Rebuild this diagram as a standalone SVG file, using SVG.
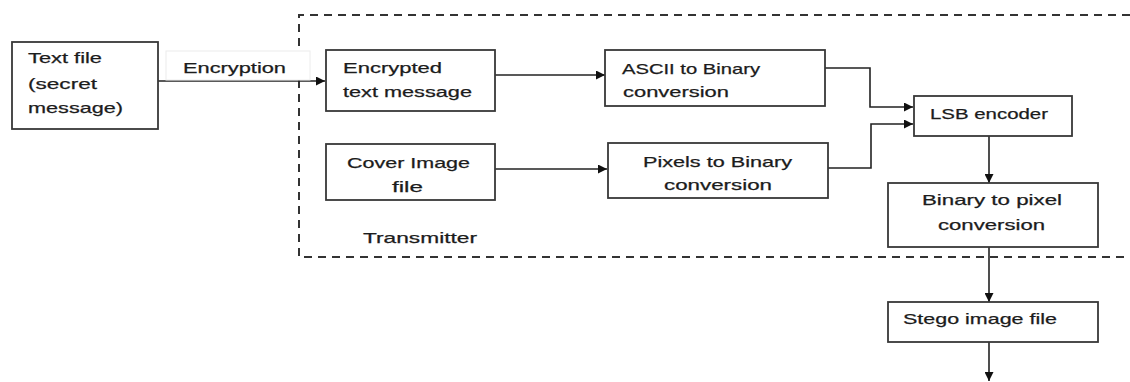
<svg xmlns="http://www.w3.org/2000/svg" width="1130" height="382" viewBox="0 0 1130 382">
  <style>
    .box { fill: #ffffff; stroke: #383838; stroke-width: 1.8; }
    .lbl { font-family: "Liberation Sans", Arial, sans-serif; font-size: 15px; fill: #1c1c1c; stroke: #1c1c1c; stroke-width: 0.25; }
    .wire { fill: none; stroke: #222222; stroke-width: 1.6; }
    .frame { fill: none; stroke: #333333; stroke-width: 2; stroke-dasharray: 8 6; }
  </style>
  <defs>
    <marker id="arrow" viewBox="0 0 10 10" refX="10" refY="5" markerWidth="10" markerHeight="9" markerUnits="userSpaceOnUse" orient="auto">
      <path d="M0,0 L10,5 L0,10 Z" fill="#111111"/>
    </marker>
  </defs>

  <rect width="1130" height="382" fill="#ffffff"/>

  <!-- transmitter boundary (open to the right) -->
  <g id="transmitter">
    <path class="frame" d="M1130,15 H299 V257 H1130"/>
    <text class="lbl" x="363" y="243" textLength="114" lengthAdjust="spacingAndGlyphs">Transmitter</text>
  </g>

  <!-- connectors -->
  <g id="connectors">
    <line class="wire" x1="158" y1="81" x2="325" y2="81" marker-end="url(#arrow)"/>
    <line class="wire" x1="495" y1="75" x2="605" y2="75" marker-end="url(#arrow)"/>
    <line class="wire" x1="495" y1="169" x2="607" y2="169" marker-end="url(#arrow)"/>
    <polyline class="wire" points="825,68 870,68 870,107 913,107" marker-end="url(#arrow)"/>
    <polyline class="wire" points="828,168 871,168 871,124 913,124" marker-end="url(#arrow)"/>
    <line class="wire" x1="989" y1="136" x2="989" y2="183" marker-end="url(#arrow)"/>
    <line class="wire" x1="989" y1="247" x2="989" y2="302" marker-end="url(#arrow)"/>
    <line class="wire" x1="989" y1="342" x2="989" y2="381" marker-end="url(#arrow)"/>
  </g>

  <!-- edge label -->
  <g id="encryption-label">
    <rect x="166" y="51" width="144" height="29" fill="#ffffff" stroke="#ececec" stroke-width="1"/>
    <text class="lbl" x="183" y="73" textLength="103" lengthAdjust="spacingAndGlyphs">Encryption</text>
  </g>

  <g id="text-file">
    <rect class="box" x="12" y="42" width="146" height="87"/>
    <text class="lbl" x="28" y="63" textLength="74" lengthAdjust="spacingAndGlyphs">Text file</text>
    <text class="lbl" x="28" y="89" textLength="69" lengthAdjust="spacingAndGlyphs">(secret</text>
    <text class="lbl" x="28" y="113" textLength="95" lengthAdjust="spacingAndGlyphs">message)</text>
  </g>

  <g id="encrypted-text">
    <rect class="box" x="326" y="50" width="169" height="61"/>
    <text class="lbl" x="343" y="73" textLength="99" lengthAdjust="spacingAndGlyphs">Encrypted</text>
    <text class="lbl" x="343" y="97" textLength="129" lengthAdjust="spacingAndGlyphs">text message</text>
  </g>

  <g id="ascii-to-binary">
    <rect class="box" x="605" y="50" width="220" height="56"/>
    <text class="lbl" x="622" y="74" textLength="138" lengthAdjust="spacingAndGlyphs">ASCII to Binary</text>
    <text class="lbl" x="623" y="97" textLength="106" lengthAdjust="spacingAndGlyphs">conversion</text>
  </g>

  <g id="cover-image">
    <rect class="box" x="326" y="144" width="169" height="56"/>
    <text class="lbl" x="347" y="168" textLength="123" lengthAdjust="spacingAndGlyphs">Cover Image</text>
    <text class="lbl" x="392" y="192" textLength="31" lengthAdjust="spacingAndGlyphs">file</text>
  </g>

  <g id="pixels-to-binary">
    <rect class="box" x="608" y="143" width="220" height="55"/>
    <text class="lbl" x="643" y="167" textLength="149" lengthAdjust="spacingAndGlyphs">Pixels to Binary</text>
    <text class="lbl" x="664" y="190" textLength="108" lengthAdjust="spacingAndGlyphs">conversion</text>
  </g>

  <g id="lsb-encoder">
    <rect class="box" x="914" y="96" width="158" height="40"/>
    <text class="lbl" x="930" y="119" textLength="118" lengthAdjust="spacingAndGlyphs">LSB encoder</text>
  </g>

  <g id="binary-to-pixel">
    <rect class="box" x="888" y="183" width="210" height="64"/>
    <text class="lbl" x="922" y="205" textLength="140" lengthAdjust="spacingAndGlyphs">Binary to pixel</text>
    <text class="lbl" x="938" y="230" textLength="107" lengthAdjust="spacingAndGlyphs">conversion</text>
  </g>

  <g id="stego-image">
    <rect class="box" x="888" y="302" width="210" height="40"/>
    <text class="lbl" x="903" y="324" textLength="154" lengthAdjust="spacingAndGlyphs">Stego image file</text>
  </g>
</svg>
